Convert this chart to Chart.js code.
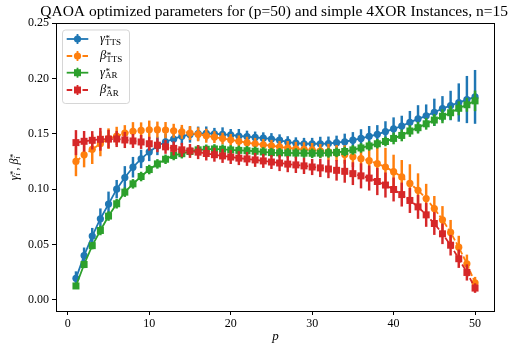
<!DOCTYPE html>
<html><head><meta charset="utf-8">
<script src="https://cdn.jsdelivr.net/npm/chart.js@4.4.1/dist/chart.umd.min.js"></script>
<style>html,body{margin:0;padding:0;background:#fff;}#wrap{width:511px;height:347px;}</style>
</head><body><div id="wrap"><canvas id="c" width="511" height="347"></canvas></div>
<script>
const titleText = 'QAOA optimized parameters for (p=50) and simple 4XOR Instances, n=15';
const xLabel = 'p';
const pValues = [1,2,3,4,5,6,7,8,9,10,11,12,13,14,15,16,17,18,19,20,21,22,23,24,25,26,27,28,29,30,31,32,33,34,35,36,37,38,39,40,41,42,43,44,45,46,47,48,49,50];
const xTicks = [0,10,20,30,40,50];
const yTicks = [0,0.05,0.10,0.15,0.20,0.25];

const gammaTTS = [0.0195,0.040,0.0577,0.0733,0.0865,0.100,0.1105,0.1198,0.1273,0.1336,0.139,0.1428,0.1453,0.1478,0.1493,0.1502,0.1503,0.1500,0.1495,0.1490,0.1480,0.1475,0.1467,0.1460,0.1453,0.1442,0.1425,0.1415,0.1410,0.1410,0.1410,0.1412,0.1420,0.1428,0.1442,0.1458,0.1477,0.1495,0.1520,0.1545,0.1570,0.1603,0.1635,0.1662,0.1694,0.1727,0.1755,0.1782,0.1809,0.1833];
const gammaTTSErr = [0.006,0.007,0.007,0.009,0.011,0.008,0.010,0.009,0.008,0.008,0.008,0.007,0.006,0.008,0.007,0.006,0.006,0.005,0.006,0.005,0.006,0.005,0.005,0.005,0.005,0.005,0.005,0.005,0.005,0.005,0.006,0.006,0.006,0.007,0.007,0.008,0.009,0.008,0.009,0.010,0.009,0.010,0.012,0.010,0.012,0.011,0.013,0.017,0.021,0.024];

const betaTTS = [0.125,0.131,0.136,0.141,0.1456,0.148,0.1505,0.1522,0.153,0.1536,0.1537,0.1533,0.1527,0.1517,0.1507,0.1495,0.1482,0.1470,0.1457,0.1445,0.1432,0.1420,0.1410,0.1400,0.1392,0.1382,0.1372,0.1364,0.1360,0.1354,0.1345,0.1336,0.1325,0.1313,0.1292,0.1275,0.1257,0.1230,0.1200,0.1158,0.1110,0.1052,0.0990,0.0915,0.0825,0.0724,0.0609,0.0476,0.0326,0.0155];
const betaTTSErr = [0.013,0.011,0.013,0.011,0.009,0.008,0.007,0.008,0.007,0.008,0.007,0.007,0.006,0.006,0.006,0.006,0.006,0.005,0.005,0.005,0.005,0.005,0.005,0.005,0.005,0.005,0.006,0.006,0.006,0.006,0.006,0.007,0.007,0.008,0.009,0.010,0.013,0.016,0.017,0.015,0.015,0.017,0.015,0.013,0.011,0.012,0.011,0.010,0.008,0.005];

const gammaAR = [0.0126,0.032,0.049,0.0627,0.0757,0.0868,0.0973,0.1048,0.1114,0.1177,0.1228,0.127,0.1304,0.132,0.1340,0.1355,0.136,0.1363,0.136,0.1354,0.135,0.1347,0.1342,0.1336,0.1330,0.1328,0.1327,0.1326,0.1325,0.1324,0.1325,0.1327,0.1332,0.1340,0.1354,0.1372,0.1390,0.1410,0.1430,0.1458,0.1485,0.1525,0.1555,0.1590,0.1624,0.1658,0.1690,0.1730,0.1762,0.1797];
const gammaARErr = [0.002,0.003,0.003,0.004,0.004,0.004,0.004,0.004,0.004,0.004,0.004,0.004,0.004,0.004,0.004,0.004,0.004,0.004,0.004,0.004,0.004,0.004,0.004,0.004,0.004,0.004,0.004,0.004,0.004,0.004,0.004,0.004,0.004,0.004,0.004,0.004,0.004,0.004,0.004,0.005,0.005,0.005,0.005,0.005,0.005,0.006,0.006,0.006,0.006,0.009];

const betaAR = [0.142,0.1432,0.1441,0.145,0.1452,0.1453,0.1444,0.1435,0.1426,0.1410,0.1397,0.1382,0.1368,0.1355,0.1345,0.1334,0.1322,0.1311,0.1300,0.1290,0.1280,0.1273,0.1264,0.1255,0.1245,0.1236,0.1226,0.1219,0.1210,0.1200,0.1192,0.1182,0.1170,0.1161,0.1140,0.1120,0.1100,0.1069,0.1037,0.0997,0.0951,0.0898,0.0840,0.0768,0.0690,0.0597,0.0494,0.0372,0.0248,0.0107];
const betaARErr = [0.011,0.009,0.008,0.010,0.008,0.007,0.007,0.006,0.006,0.006,0.006,0.006,0.006,0.006,0.006,0.006,0.006,0.006,0.006,0.006,0.006,0.006,0.006,0.006,0.006,0.007,0.007,0.007,0.007,0.007,0.008,0.008,0.009,0.010,0.010,0.011,0.011,0.012,0.011,0.0105,0.0105,0.011,0.0105,0.0105,0.010,0.009,0.009,0.008,0.007,0.004];

const seriesSymbols = ['γ','β','γ','β'];
const seriesSubscripts = ['TTS','TTS','AR','AR'];
const seriesColors = ['#1f77b4','#ff7f0e','#2ca02c','#d62728'];
const seriesValues = [gammaTTS, betaTTS, gammaAR, betaAR];
const seriesErrors = [gammaTTSErr, betaTTSErr, gammaARErr, betaARErr];
const seriesMarkers = ['circle','circle','rect','rect'];
const seriesDashed = [false, true, false, true];

const FONT = "'Liberation Serif', 'Times New Roman', serif";
const LW = 1.8;

const datasets = [];
seriesValues.forEach((vals, s) => {
  const col = seriesColors[s];
  const ord = 2 * (seriesValues.length - s);
  datasets.push({
    type: 'line',
    label: seriesSymbols[s] + '*_' + seriesSubscripts[s],
    data: pValues.map((x, i) => ({x: x, y: vals[i]})),
    borderColor: col, backgroundColor: col,
    borderWidth: LW, borderDash: seriesDashed[s] ? [5.5, 2.4] : [],
    pointStyle: seriesMarkers[s],
    pointRadius: seriesMarkers[s] === 'circle' ? 3.6 : 4.95,
    pointBackgroundColor: col, pointBorderColor: col, pointBorderWidth: 0,
    pointHoverRadius: 0, tension: 0, fill: false,
    order: ord - 1
  });
  datasets.push({
    type: 'bar',
    label: 'err',
    data: pValues.map((x, i) => ({x: x, y: [vals[i] - seriesErrors[s][i], vals[i] + seriesErrors[s][i]]})),
    backgroundColor: col, borderWidth: 0,
    barThickness: LW, grouped: false,
    order: ord
  });
});

function drawSym(ctx, x, base, sym, sub, size, subItalic) {
  ctx.font = 'italic ' + size + 'px ' + FONT;
  ctx.fillText(sym, x, base);
  let w = ctx.measureText(sym).width;
  const ss = size * 0.72;
  ctx.font = ss + 'px ' + FONT;
  ctx.fillText('*', x + w + 0.6, base - size * 0.1);
  const ws = ctx.measureText('*').width + 0.6;
  ctx.font = (subItalic ? 'italic ' : '') + ss + 'px ' + FONT;
  ctx.fillText(sub, x + w, base + size * 0.22);
  const wb = ctx.measureText(sub).width;
  return x + w + Math.max(ws, wb);
}
function symWidth(ctx, sym, sub, size, subItalic) {
  ctx.font = 'italic ' + size + 'px ' + FONT;
  const w = ctx.measureText(sym).width;
  const ss = size * 0.72;
  ctx.font = ss + 'px ' + FONT;
  const ws = ctx.measureText('*').width + 0.6;
  ctx.font = (subItalic ? 'italic ' : '') + ss + 'px ' + FONT;
  const wb = ctx.measureText(sub).width;
  return w + Math.max(ws, wb);
}

const framePlugin = {
  id: 'frame',
  afterDatasetsDraw(chart) {
    const {ctx, chartArea: a} = chart;
    ctx.save();
    ctx.strokeStyle = '#000'; ctx.lineWidth = 1;
    ctx.strokeRect(Math.round(a.left) + 0.5, Math.round(a.top) + 0.5, Math.round(a.right) - Math.round(a.left) - 1, Math.round(a.bottom) - Math.round(a.top));
    ctx.restore();
  }
};

const overlayPlugin = {
  id: 'overlay',
  afterDraw(chart) {
    const {ctx, chartArea: a} = chart;
    ctx.save();
    ctx.fillStyle = '#000';
    ctx.textBaseline = 'alphabetic';
    ctx.textAlign = 'left';
    // y-axis label
    const size = 12;
    ctx.save();
    ctx.translate(17.5, (a.top + a.bottom) / 2);
    ctx.rotate(-Math.PI / 2);
    ctx.font = size + 'px ' + FONT;
    const comma = ', ';
    const cw = ctx.measureText(comma).width;
    const total = symWidth(ctx, 'γ', 'i', size, true) + cw + symWidth(ctx, 'β', 'i', size, true);
    let x = -total / 2;
    x = drawSym(ctx, x, 0, 'γ', 'i', size, true);
    ctx.font = size + 'px ' + FONT;
    ctx.fillText(comma, x, 0);
    x += cw;
    drawSym(ctx, x, 0, 'β', 'i', size, true);
    ctx.restore();

    // legend
    const bx = a.left + 6, by = a.top + 6.5, bw = 67, bh = 73.5;
    ctx.save();
    ctx.globalAlpha = 0.8;
    ctx.fillStyle = '#fff';
    ctx.strokeStyle = '#cccccc';
    ctx.lineWidth = 1;
    ctx.beginPath();
    ctx.roundRect(bx + 0.5, by + 0.5, bw, bh, 3);
    ctx.fill(); ctx.stroke();
    ctx.restore();
    const rows = [a.top + 16, a.top + 33, a.top + 49.7, a.top + 67];
    seriesValues.forEach((v, s) => {
      const col = seriesColors[s];
      const cy = rows[s];
      const x0 = bx + 4.7, x1 = bx + 26.3, xm = (x0 + x1) / 2;
      ctx.save();
      ctx.strokeStyle = col; ctx.fillStyle = col; ctx.lineWidth = LW;
      ctx.setLineDash(seriesDashed[s] ? [5.5, 2.4] : []);
      ctx.beginPath(); ctx.moveTo(x0, cy); ctx.lineTo(x1, cy); ctx.stroke();
      ctx.setLineDash([]);
      ctx.beginPath(); ctx.moveTo(xm, cy - 5); ctx.lineTo(xm, cy + 5); ctx.stroke();
      ctx.beginPath();
      if (seriesMarkers[s] === 'circle') ctx.arc(xm, cy, 3.6, 0, Math.PI * 2);
      else ctx.rect(xm - 3.5, cy - 3.5, 7, 7);
      ctx.fill();
      ctx.restore();
      ctx.fillStyle = '#000';
      drawSym(ctx, bx + 38, cy + 3, seriesSymbols[s], seriesSubscripts[s], 12.5, false);
    });
    ctx.restore();
  }
};

new Chart(document.getElementById('c'), {
  type: 'line',
  data: { datasets: datasets },
  options: {
    responsive: false, animation: false, devicePixelRatio: 1,
    layout: { padding: { left: 0, right: 3, top: 0, bottom: 0 } },
    plugins: {
      legend: { display: false },
      tooltip: { enabled: false },
      title: {
        display: true, text: titleText, fullSize: true, align: 'end', color: '#000',
        font: { family: FONT, size: 15.5, weight: 'normal', lineHeight: '18.6px' },
        padding: { top: 3, bottom: 1.4 }
      }
    },
    scales: {
      x: {
        type: 'linear', min: -1.45, max: 52.45, offset: false,
        afterFit: s => { s.height = 36; },
        afterBuildTicks: s => { s.ticks = xTicks.map(v => ({value: v})); },
        ticks: { font: { family: FONT, size: 12 }, color: '#000', padding: 2, maxRotation: 0, callback: v => String(v) },
        grid: { offset: false, drawOnChartArea: false, drawTicks: true, tickLength: 4, color: '#000', lineWidth: 1 },
        border: { display: false },
        title: { display: true, text: xLabel, color: '#000', font: { family: FONT, size: 13, style: 'italic' }, padding: { top: 0, bottom: 3 } }
      },
      y: {
        type: 'linear', min: -0.01, max: 0.25,
        afterFit: s => { s.width = 56; },
        afterBuildTicks: s => { s.ticks = yTicks.map(v => ({value: v})); },
        ticks: { font: { family: FONT, size: 12 }, color: '#000', padding: 3, callback: v => Number(v).toFixed(2) },
        grid: { offset: false, drawOnChartArea: false, drawTicks: true, tickLength: 4, color: '#000', lineWidth: 1 },
        border: { display: false }
      },
      yRight: {
        type: 'linear', position: 'right', display: true,
        afterFit: s => { s.width = 13; },
        ticks: { display: false },
        grid: { display: false, drawTicks: false },
        border: { display: false }
      }
    }
  },
  plugins: [framePlugin, overlayPlugin]
});
</script>
</body></html>
